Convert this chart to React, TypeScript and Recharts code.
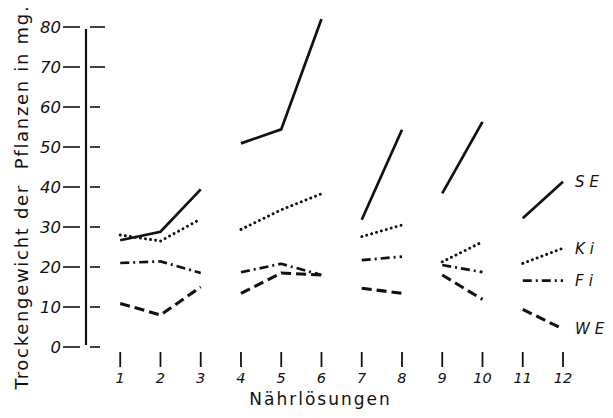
import React from 'react';
import { LineChart, Line, XAxis, YAxis, ReferenceLine, LabelList } from 'recharts';

// Nährlösungen 1..12, plotted in separate groups (lines break between groups)
const solutions = [1, 2, 3, 4, 5, 6, 7, 8, 9, 10, 11, 12];
const groups = [[1, 3], [4, 6], [7, 8], [9, 10], [11, 12]];

// Trockengewicht in mg
const seValues = [26.7, 28.8, 39.4, 50.9, 54.4, 82, 31.8, 54.3, 38.4, 56.3, 32.2, 41.3];
const kiValues = [28, 26.5, 32, 29.4, 34.3, 38.3, 27.6, 30.5, 21.3, 26.3, 20.9, 24.7];
const fiValues = [21, 21.4, 18.5, 18.7, 20.8, 18, 21.7, 22.6, 20.5, 18.7, 16.6, 16.6];
const weValues = [10.9, 8, 15, 13.4, 18.5, 18, 14.7, 13.4, 18, 11.9, 9.4, 4.5];

const yTicks = [0, 10, 20, 30, 40, 50, 60, 70, 80];

const INK = '#111';
const FONT = '"DejaVu Sans", sans-serif';
const PLOT_BOTTOM = 347;

const series = [
    { name: 'SE', values: seValues, dash: undefined, width: 2.7, cap: 'butt' },
    { name: 'Ki', values: kiValues, dash: '0.1 5', width: 2.9, cap: 'round' },
    { name: 'Fi', values: fiValues, dash: '9 4 2 4', width: 2.7, cap: 'butt' },
    { name: 'WE', values: weValues, dash: '10 5', width: 3.1, cap: 'butt' },
];

function segment(values: number[], from: number, to: number, name: string) {
    const rows: { n: number; v: number; tag?: string }[] = [];
    for (let n = from; n <= to; n++) {
        rows.push({ n, v: values[n - 1] });
    }
    // only the very last point carries the series name
    if (to === solutions[solutions.length - 1]) rows[rows.length - 1].tag = name;
    return rows;
}

function YTick(props: any) {
    const { y, payload } = props;
    const long = payload.value >= 70;
    return (
        <g>
            <text x={61} y={y} textAnchor="end" dominantBaseline="central" fontSize={16.5} fontStyle="italic" fontFamily={FONT} fill={INK}>
                {payload.value}
            </text>
            <line x1={63} x2={80} y1={y} y2={y} stroke={INK} strokeWidth={1.6} />
            <line x1={90} x2={long ? 105 : 100} y1={y} y2={y} stroke={INK} strokeWidth={1.6} />
        </g>
    );
}

function XTick(props: any) {
    const { x, payload } = props;
    return (
        <g>
            <line x1={x} x2={x} y1={PLOT_BOTTOM + 5} y2={PLOT_BOTTOM + 20} stroke={INK} strokeWidth={1.8} />
            <text x={x} y={PLOT_BOTTOM + 36} textAnchor="middle" fontSize={14.5} fontStyle="italic" fontFamily={FONT} fill={INK}>
                {payload.value}
            </text>
        </g>
    );
}

function YTitle(props: any) {
    const { viewBox } = props;
    const cy = viewBox.y + viewBox.height / 2 + 18;
    return (
        <text x={21} y={cy} transform={`rotate(-90 21 ${cy})`} textAnchor="middle" dominantBaseline="central" fontSize={18} letterSpacing={1.7} fontFamily={FONT} fill={INK} style={{ whiteSpace: 'pre' }}>
            Trockengewicht der  Pflanzen in mg.
        </text>
    );
}

function XTitle(props: any) {
    const { viewBox } = props;
    return (
        <text x={viewBox.x + viewBox.width / 2 - 4} y={PLOT_BOTTOM + 58} textAnchor="middle" fontSize={17} letterSpacing={2} fontFamily={FONT} fill={INK}>
            Nährlösungen
        </text>
    );
}

export default function App() {
    return (
        <div style={{ position: 'absolute', left: 0, top: 0, width: 613, height: 418, background: '#fff' }}>
            <LineChart width={613} height={418} margin={{ top: 11, right: 50, bottom: 11, left: 0 }}>
                <XAxis
                    type="number"
                    dataKey="n"
                    domain={[0.15, 12]}
                    ticks={solutions}
                    interval={0}
                    axisLine={false}
                    tickLine={false}
                    height={60}
                    tick={XTick}
                    label={<XTitle />}
                />
                <YAxis
                    type="number"
                    domain={[0, 84]}
                    ticks={yTicks}
                    interval={0}
                    width={86}
                    axisLine={false}
                    tickLine={false}
                    tick={YTick}
                    label={<YTitle />}
                />
                <ReferenceLine
                    segment={[{ x: 0.15, y: 0.5 }, { x: 0.15, y: 79.5 }]}
                    stroke={INK}
                    strokeWidth={2.2}
                    ifOverflow="visible"
                />
                {series.map((s) =>
                    groups.map(([from, to]) => (
                        <Line
                            key={`${s.name}-${from}`}
                            data={segment(s.values, from, to, s.name)}
                            dataKey="v"
                            type="linear"
                            stroke={INK}
                            strokeWidth={s.width}
                            strokeDasharray={s.dash}
                            strokeLinecap={s.cap as any}
                            dot={false}
                            activeDot={false}
                            isAnimationActive={false}
                        >
                            {to === 12 && (
                                <LabelList
                                    dataKey="tag"
                                    position="right"
                                    offset={12}
                                    fill={INK}
                                    fontSize={15}
                                    fontStyle="italic"
                                    letterSpacing={5}
                                    fontFamily={FONT}
                                />
                            )}
                        </Line>
                    ))
                )}
            </LineChart>
        </div>
    );
}
